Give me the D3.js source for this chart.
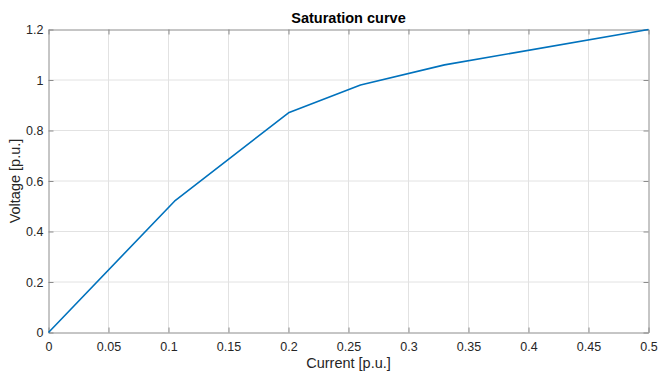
<!DOCTYPE html>
<html><head><meta charset="utf-8">
<script src="https://cdn.jsdelivr.net/npm/d3@7"></script>
<style>html,body{margin:0;padding:0;background:#fff;}svg{display:block;}</style>
</head><body>
<script>
const currentValues = [0, 0.105, 0.2, 0.26, 0.33, 0.5];
const voltageValues = [0, 0.52, 0.87, 0.98, 1.06, 1.2];
const xTicks = [0, 0.05, 0.1, 0.15, 0.2, 0.25, 0.3, 0.35, 0.4, 0.45, 0.5];
const yTicks = [0, 0.2, 0.4, 0.6, 0.8, 1, 1.2];
const title = "Saturation curve";
const xLabel = "Current [p.u.]";
const yLabel = "Voltage [p.u.]";

const W = 659, H = 372;
const m = {left: 48.5, top: 29.5, right: 10.5, bottom: 39.5};
const svg = d3.select("body").append("svg").attr("width", W).attr("height", H);
const x = d3.scaleLinear().domain([0, 0.5]).range([m.left, W - m.right]);
const y = d3.scaleLinear().domain([0, 1.2]).range([H - m.bottom, m.top]);
const font = "Liberation Sans, Arial, Helvetica, sans-serif";
const textCol = "#262626", axisCol = "#8c8c8c", gridCol = "#e2e2e2";

// grid
svg.append("g").selectAll("line").data(xTicks.slice(1, -1)).join("line")
  .attr("x1", d => x(d)).attr("x2", d => x(d)).attr("y1", y(0)).attr("y2", y(1.2))
  .attr("stroke", gridCol).attr("stroke-width", 1);
svg.append("g").selectAll("line").data(yTicks.slice(1, -1)).join("line")
  .attr("y1", d => y(d)).attr("y2", d => y(d)).attr("x1", x(0)).attr("x2", x(0.5))
  .attr("stroke", gridCol).attr("stroke-width", 1);

// axes (ticks inside)
const fmt = d => String(+d.toFixed(2));
const gx = svg.append("g").attr("transform", `translate(0,${y(0)})`)
  .call(d3.axisBottom(x).tickValues(xTicks).tickFormat(fmt).tickSizeInner(-5).tickSizeOuter(0).tickPadding(10));
const gxt = svg.append("g").attr("transform", `translate(0,${y(1.2)})`)
  .call(d3.axisTop(x).tickValues(xTicks).tickFormat("").tickSizeInner(-5).tickSizeOuter(0));
const gy = svg.append("g").attr("transform", `translate(${x(0)},0)`)
  .call(d3.axisLeft(y).tickValues(yTicks).tickFormat(fmt).tickSizeInner(-5).tickSizeOuter(0).tickPadding(5));
const gyr = svg.append("g").attr("transform", `translate(${x(0.5)},0)`)
  .call(d3.axisRight(y).tickValues(yTicks).tickFormat("").tickSizeInner(-5).tickSizeOuter(0));
[gx, gxt, gy, gyr].forEach(g => {
  g.select(".domain").attr("stroke", axisCol);
  g.selectAll(".tick line").attr("stroke", axisCol);
  g.selectAll("text").attr("fill", textCol).style("font-family", font).style("font-size", "12.5px");
});

// line
svg.append("path")
  .datum(currentValues.map((c, i) => [c, voltageValues[i]]))
  .attr("fill", "none").attr("stroke", "#0072BD").attr("stroke-width", 1.6)
  .attr("stroke-linejoin", "round")
  .attr("d", d3.line().x(d => x(d[0])).y(d => y(d[1])));

// texts
svg.append("text").attr("x", (x(0) + x(0.5)) / 2).attr("y", 23).attr("text-anchor", "middle")
  .style("font-family", font).style("font-size", "14.5px").style("font-weight", "bold")
  .attr("fill", "#000").text(title);
svg.append("text").attr("x", (x(0) + x(0.5)) / 2).attr("y", 368).attr("text-anchor", "middle")
  .style("font-family", font).style("font-size", "14.5px").attr("fill", textCol).text(xLabel);
svg.append("text").attr("transform", `translate(20,${(y(0) + y(1.2)) / 2}) rotate(-90)`)
  .attr("text-anchor", "middle")
  .style("font-family", font).style("font-size", "14.5px").attr("fill", textCol).text(yLabel);
</script>
</body></html>
